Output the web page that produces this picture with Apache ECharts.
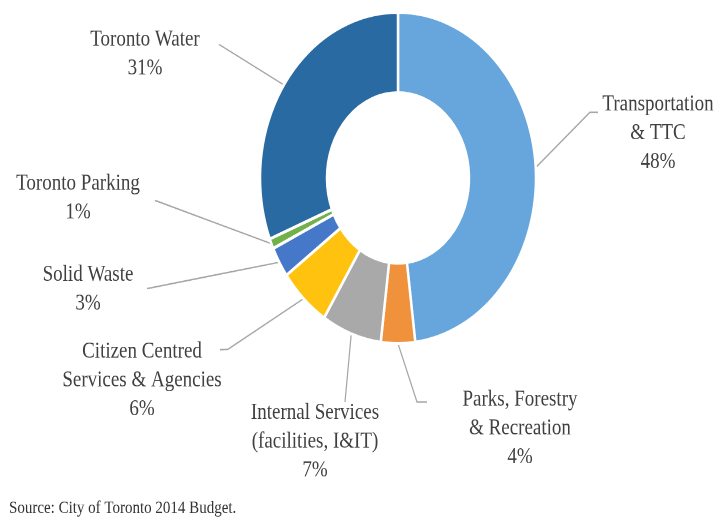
<!DOCTYPE html>
<html>
<head>
<meta charset="utf-8">
<script src="https://cdn.jsdelivr.net/npm/echarts@6/dist/echarts.min.js"></script>
<style>
  html, body { margin: 0; padding: 0; background: #fff; overflow: hidden; }
  #wrap { width: 720px; height: 519px; overflow: hidden; }
  #chart { width: 720px; height: 432.5px; transform: scaleY(1.2); transform-origin: 0 0; }
</style>
</head>
<body>
<div id="wrap"><div id="chart"></div></div>
<script>
// ---- data ----
const categories = [
  'Transportation\n& TTC',
  'Parks, Forestry\n& Recreation',
  'Internal Services\n(facilities, I&IT)',
  'Citizen Centred\nServices & Agencies',
  'Solid Waste',
  'Toronto Parking',
  'Toronto Water'
];
const shares = [48, 4, 7, 6, 3, 1, 31];
const sourceNote = 'Source: City of Toronto 2014 Budget.';

// ---- style / layout ----
const FONT = 'Liberation Serif';
const colors = ['#66A6DD', '#F0913B', '#A9A9A9', '#FFC20E', '#4578C9', '#72B04A', '#2A6AA2'];
// label block centres and leader-line end points (chart coordinates, before vertical stretch)
const labelLayoutCfg = [
  { x: 658, y: 111, mid: [590, 93.5], end: [598, 93.5] },
  { x: 520, y: 357, mid: [417, 335], end: [427, 335] },
  { x: 315, y: 368, end: [345, 335] },
  { x: 142, y: 317, mid: [228, 291], end: [220, 291.5] },
  { x: 88,  y: 241, end: [147, 240.5] },
  { x: 78,  y: 165, end: [155, 167] },
  { x: 145, y: 45,  end: [219, 37] }
];

const chart = echarts.init(document.getElementById('chart'), null, { renderer: 'canvas', devicePixelRatio: 2 });
chart.setOption({
  backgroundColor: '#fff',
  animation: false,
  textStyle: { fontFamily: FONT },
  title: {
    text: sourceNote,
    left: 4,
    top: 411,
    textStyle: { fontFamily: FONT, fontSize: 15, fontWeight: 'normal', color: '#333' }
  },
  series: [{
    type: 'pie',
    center: [398, 148.3],
    radius: [71, 138],
    startAngle: 90,
    clockwise: true,
    avoidLabelOverlap: false,
    itemStyle: { borderColor: '#fff', borderWidth: 2.5 },
    label: {
      show: true,
      position: 'outside',
      formatter: p => p.name + '\n' + p.value + '%',
      textStyle: { fontFamily: FONT },
      fontFamily: FONT,
      fontSize: 19,
      lineHeight: 24,
      color: '#404040',
      align: 'center'
    },
    emphasis: { disabled: true },
    labelLine: { show: true, lineStyle: { color: '#a6a6a6', width: 1.2 } },
    labelLayout: function (params) {
      const L = labelLayoutCfg[params.dataIndex];
      const p0 = params.labelLinePoints[0];
      const mid = L.mid || [(p0[0] + L.end[0]) / 2, (p0[1] + L.end[1]) / 2];
      return {
        x: L.x, y: L.y, align: 'center', verticalAlign: 'middle',
        labelLinePoints: [p0, mid, L.end]
      };
    },
    data: categories.map((c, i) => ({ name: c, value: shares[i], itemStyle: { color: colors[i] } }))
  }]
});
</script>
</body>
</html>
